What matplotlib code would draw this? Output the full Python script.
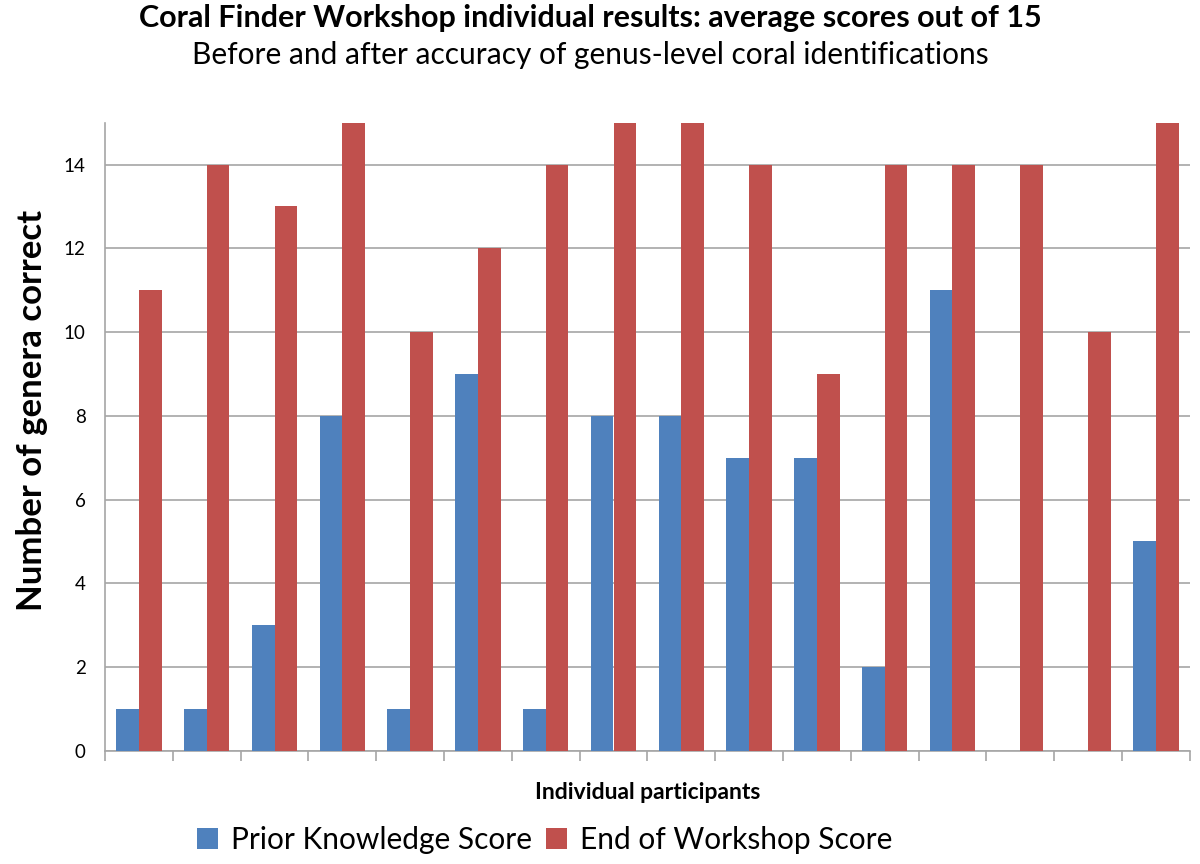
import matplotlib
matplotlib.use("Agg")
import matplotlib.pyplot as plt
import numpy as np

plt.rcParams['font.family'] = ['Lato', 'DejaVu Sans']

# scores per participant (out of 15)
prior = [1, 1, 3, 8, 1, 9, 1, 8, 8, 7, 7, 2, 11, 0, 0, 5]
end = [11, 14, 13, 15, 10, 12, 14, 15, 15, 14, 9, 14, 14, 14, 10, 15]
series_names = ['Prior Knowledge Score', 'End of Workshop Score']
yticks = [0, 2, 4, 6, 8, 10, 12, 14]

blue = '#4F81BD'
red = '#C0504D'

fig = plt.figure(figsize=(12, 8.64), dpi=100)
ax = fig.add_axes([0.0875, 0.131, 0.904, 0.727])

x = np.arange(len(prior))
w = 0.335
ax.bar(x - w / 2, prior, w, color=blue, label=series_names[0], zorder=3)
ax.bar(x + w / 2, end, w, color=red, label=series_names[1], zorder=3)

ax.set_xlim(-0.5, len(prior) - 0.5)
ax.set_ylim(0, 15)
ax.set_yticks(yticks)
ax.yaxis.grid(True, color='#A6A6A6', linewidth=1.2, zorder=0)
ax.set_xticks(np.arange(len(prior) + 1) - 0.5)
ax.set_xticklabels([])
ax.tick_params(axis='x', length=7, color='#A6A6A6', width=1.2)
ax.tick_params(axis='y', length=0, labelsize=13.5, pad=14)

for s in ['top', 'right']:
    ax.spines[s].set_visible(False)
for s in ['left', 'bottom']:
    ax.spines[s].set_color('#A6A6A6')
    ax.spines[s].set_linewidth(1.2)

ax.set_ylabel('Number of genera correct', fontsize=25, fontweight='bold')
ax.yaxis.set_label_coords(-0.053, 0.542)
ax.set_xlabel('Individual participants', fontsize=16.5, fontweight='bold', labelpad=12)

fig.text(0.492, 0.979, 'Coral Finder Workshop individual results: average scores out of 15',
         ha='center', va='center', fontsize=22, fontweight='bold')
fig.text(0.492, 0.936, 'Before and after accuracy of genus-level coral identifications',
         ha='center', va='center', fontsize=21.5)

fig.legend(loc='center', bbox_to_anchor=(0.454, 0.028), ncol=2, frameon=False,
           fontsize=21.5, handlelength=0.7, handleheight=0.7, handletextpad=0.45,
           columnspacing=0.45)

fig.savefig('out.png', dpi=100)
